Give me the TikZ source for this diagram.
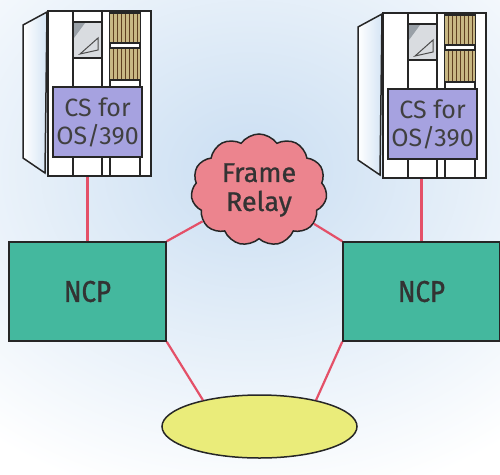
\documentclass[tikz,border=0pt]{standalone}
\usepackage{fontspec}
\setsansfont{Fira Sans}
\newfontfamily\ncpfont{Fira Sans}[FakeStretch=0.86, FakeBold=1.2]
\newfontfamily\relayfont{Fira Sans}[FakeBold=0.8]
\usepackage{xcolor}
\definecolor{ncpteal}{RGB}{68,184,158}
\definecolor{cslilac}{RGB}{166,162,224}
\definecolor{frpink}{RGB}{236,132,142}
\definecolor{lanyellow}{RGB}{234,236,122}
\definecolor{linkred}{RGB}{228,80,104}
\definecolor{washblue}{RGB}{202,222,242}
\definecolor{grilletan}{RGB}{200,184,132}
\definecolor{glassgray}{RGB}{170,178,186}
\usepackage{tikz}
\usetikzlibrary{
    positioning,
    shapes.geometric,
    shapes.symbols
}
\tikzset{
    outline/.style  = {draw=black!85, line width=1.5pt},
    ncpbox/.style   = {rectangle, outline, fill=ncpteal, inner sep=0pt,
                       minimum width=157pt, minimum height=99pt,
                       font=\ncpfont\fontsize{30}{32}\selectfont, text=black!80},
    cslabel/.style  = {rectangle, outline, fill=cslilac, inner sep=0pt,
                       minimum width=89pt, minimum height=70pt, align=center,
                       font=\sffamily\fontsize{25}{28}\selectfont, text=black!75},
    relaycloud/.style = {cloud, cloud puffs=11, cloud puff arc=110, aspect=1.25,
                       outline, fill=frpink, inner sep=0pt,
                       minimum width=136pt, minimum height=112pt, align=center,
                       font=\relayfont\fontsize{27}{29}\selectfont, text=black!80},
    lanring/.style  = {ellipse, outline, fill=lanyellow,
                       minimum width=195pt, minimum height=63pt},
    link/.style     = {draw=linkred, line width=2.2pt},
    % host cabinet, origin at the top left corner of the front
    mainframe/.pic  = {
        % slanted side panel
        \path[outline, left color=white, right color=washblue!80]
            (0,2) -- (-24,15) -- (-24,148) -- (-2,163) -- cycle;
        % front
        \node[rectangle, outline, fill=white, inner sep=0pt, anchor=north west,
              minimum width=103pt, minimum height=165pt] (-body) at (0,0) {};
        \foreach \cx in {26,55,63,93}
            \draw[outline] (\cx,0) -- (\cx,165);
        % window
        \fill[glassgray!45] (27,13) rectangle (54,47);
        \fill[glassgray!90!black] (27,13) -- (38,13) -- (27,28) -- cycle;
        \draw[black!70, line width=1pt] (33,44) -- (51,28) -- (51,40) -- cycle;
        \draw[outline] (26,12) -- (55,12) (26,48) -- (55,48);
        % vent grilles
        \foreach \gt/\gb in {3/33, 38/70} {
            \fill[grilletan] (63,\gt) rectangle (93,\gb);
            \foreach \sx in {66,70,74,78,82,86,90}
                \draw[brown!50!black, line width=0.8pt] (\sx,\gt) -- (\sx,\gb);
            \draw[outline] (63,\gt) -- (93,\gt) (63,\gb) -- (93,\gb);
        }
        % system label
        \node[cslabel] (-lbl) at (50.5,112) {CS for\\OS/390};
    }
}

\begin{document}
\begin{tikzpicture}[x=1pt, y=-1pt]

% ===== Canvas and watercolour wash =====
\useasboundingbox (0,0) rectangle (500,474);
\begin{scope}
\clip (0,0) rectangle (500,474);
\fill[white] (0,0) rectangle (500,474);
\shade[inner color=washblue, outer color=white] (250,170) ellipse (420 and 340);
\end{scope}

% ===== Hosts =====
\pic (srvL) at (47,10) {mainframe};
\pic (srvR) at (382,12) {mainframe};

% ===== NCPs, frame relay cloud and ring =====
\node[ncpbox] (ncpL) at (87.5,291.5) {NCP};
\node[ncpbox] (ncpR) at (421.5,291.5) {NCP};
\node[relaycloud] (relay) at (259,190) {Frame\\Relay};
\node[lanring] (lan) at (259.5,426.5) {};

% ===== Links =====
\draw[link] (ncpL.north) -- (ncpL.north |- srvL-body.south);
\draw[link] (ncpR.north) -- (ncpR.north |- srvR-body.south);
\draw[link] (ncpL.north east) -- (relay);
\draw[link] (ncpR.north west) -- (relay);
\draw[link] (ncpL.south east) -- (lan.155);
\draw[link] (ncpR.south west) -- (lan.25);

\end{tikzpicture}
\end{document}
